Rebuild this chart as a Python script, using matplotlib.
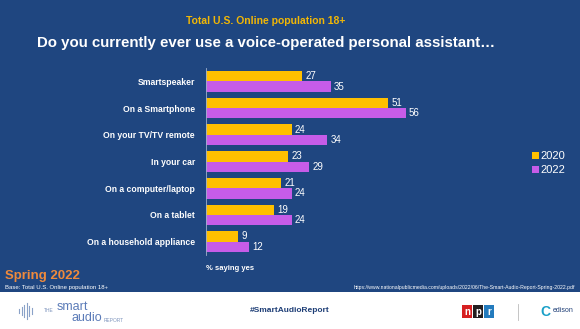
import matplotlib.pyplot as plt
import matplotlib.patches as patches
import numpy as np

plt.rcParams['font.family'] = ['Liberation Sans', 'DejaVu Sans']

categories = ["Smartspeaker", "On a Smartphone", "On your TV/TV remote", "In your car",
              "On a computer/laptop", "On a tablet", "On a household appliance"]
vals_2020 = [27, 51, 24, 23, 21, 19, 9]
vals_2022 = [35, 56, 34, 29, 24, 24, 12]
years = ["2020", "2022"]

bg = "#1f4680"
c2020 = "#ffc000"
c2022 = "#c65ce8"

fig = plt.figure(figsize=(5.8, 3.29), dpi=100)
fig.patch.set_facecolor("white")
# blue slide area
fig.add_artist(patches.Rectangle((0, 1 - 292 / 329), 1, 292 / 329, transform=fig.transFigure,
                                 facecolor=bg, edgecolor="none", zorder=0))

ax = fig.add_axes([206 / 580, 1 - 255 / 329, 214 / 580, 187 / 329])
ax.set_facecolor("none")
y = np.arange(len(categories))
h = 0.39
b1 = ax.barh(y - h / 2, vals_2020, height=h, color=c2020, label=years[0])
b2 = ax.barh(y + h / 2, vals_2022, height=h, color=c2022, label=years[1])
for bars in (b1, b2):
    for rect in bars:
        w = rect.get_width()
        ax.text(w + 0.9, rect.get_y() + rect.get_height() / 2, str(int(w)),
                color="white", fontsize=7, va="center", ha="left")

ax.set_xlim(0, 60)
ax.set_ylim(len(categories) - 0.5, -0.5)
ax.set_yticks(y)
ax.set_yticklabels(categories, color="white", fontsize=6.2, fontweight="bold")
ax.tick_params(axis="y", length=0, pad=8)
ax.set_xticks([])
for s in ["top", "right", "bottom"]:
    ax.spines[s].set_visible(False)
ax.spines["left"].set_color("#9fb0cc")
ax.spines["left"].set_linewidth(0.6)

leg = fig.legend(handles=[b1, b2], labels=years, loc="center left",
                 bbox_to_anchor=(522 / 580, 1 - 163 / 329), frameon=False,
                 fontsize=8, handlelength=0.6, handleheight=0.6, handletextpad=0.2,
                 labelspacing=0.35)
for t in leg.get_texts():
    t.set_color("white")

fig.text(266 / 580, 1 - 21 / 329, "Total U.S. Online population 18+", color="#f2b705",
         fontsize=7.5, fontweight="bold", ha="center", va="center")
fig.text(266 / 580, 1 - 43 / 329, "Do you currently ever use a voice-operated personal assistant\u2026",
         color="white", fontsize=10.8, fontweight="bold", ha="center", va="center")

fig.text(206 / 580, 1 - 268 / 329, "% saying yes", color="white", fontsize=5.5,
         fontweight="bold", ha="left", va="center")
fig.text(5 / 580, 1 - 276 / 329, "Spring 2022", color="#ef8a3c", fontsize=9.5,
         fontweight="bold", ha="left", va="center")
fig.text(5 / 580, 1 - 288 / 329, "Base: Total U.S. Online population 18+", color="white",
         fontsize=4.3, ha="left", va="center")
fig.text(575 / 580, 1 - 288 / 329,
         "https://www.nationalpublicmedia.com/uploads/2022/06/The-Smart-Audio-Report-Spring-2022.pdf",
         color="white", fontsize=3.7, ha="right", va="center")

# footer
fig.text(290 / 580, 1 - 311 / 329, "#SmartAudioReport", color="#1f3f77", fontsize=6,
         fontweight="bold", ha="center", va="center")
for i, hgt in enumerate([4, 8, 12, 16, 10, 6]):
    xx = (19 + i * 2.5) / 580
    fig.add_artist(plt.Line2D([xx, xx], [1 - (311 + hgt / 2) / 329, 1 - (311 - hgt / 2) / 329],
                              transform=fig.transFigure, color="#8aa2c8", lw=0.8))
fig.text(44 / 580, 1 - 310 / 329, "THE", color="#7f95bd", fontsize=3.5, ha="left", va="center")
fig.text(57 / 580, 1 - 307 / 329, "smart", color="#5b7bb8", fontsize=9, ha="left", va="center")
fig.text(71 / 580, 1 - 318 / 329, "audio", color="#5b7bb8", fontsize=9, ha="left", va="center")
fig.text(104 / 580, 1 - 320 / 329, "REPORT", color="#7f95bd", fontsize=3.5, ha="left", va="center")

for i, (letter, col) in enumerate(zip("npr", ["#d62021", "#231f20", "#237bbd"])):
    x0 = (462 + i * 11) / 580
    fig.add_artist(patches.Rectangle((x0, 1 - 318 / 329), 10 / 580, 13 / 329,
                                     transform=fig.transFigure, facecolor=col, edgecolor="none"))
    fig.text(x0 + 5 / 580, 1 - 312 / 329, letter, color="white", fontsize=7,
             fontweight="bold", ha="center", va="center")
fig.add_artist(plt.Line2D([518 / 580, 518 / 580], [1 - 320 / 329, 1 - 304 / 329],
                          transform=fig.transFigure, color="#bbbbbb", lw=0.6))
fig.text(545 / 580, 1 - 312 / 329, "C", color="#1aa0c8", fontsize=10, fontweight="bold",
         ha="center", va="center")
fig.text(553 / 580, 1 - 311 / 329, "edison", color="#1f3f77", fontsize=5, ha="left", va="center")

fig.savefig("out.png", dpi=100, facecolor=fig.get_facecolor())
